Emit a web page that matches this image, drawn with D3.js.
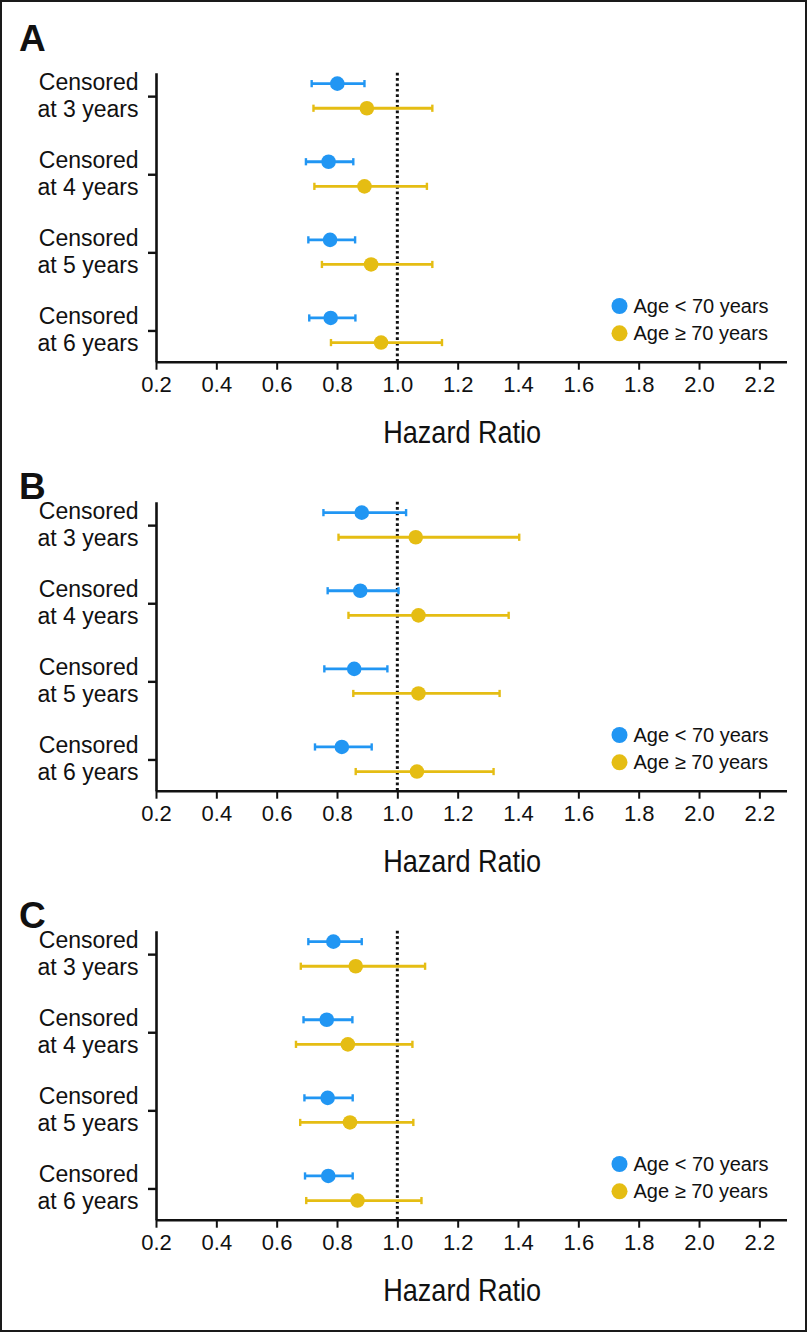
<!DOCTYPE html>
<html><head><meta charset="utf-8">
<script src="https://cdn.jsdelivr.net/npm/d3@7"></script>
<style>body{margin:0;background:#fff} svg{display:block}</style>
</head><body><svg id="c" width="809" height="1332"></svg>
<script>
// ---------- data ----------
const panelLetters = ["A", "B", "C"];
const categories = [["Censored", "at 3 years"], ["Censored", "at 4 years"], ["Censored", "at 5 years"], ["Censored", "at 6 years"]];
const tickValues = [0.2, 0.4, 0.6, 0.8, 1.0, 1.2, 1.4, 1.6, 1.8, 2.0, 2.2];
const tickLabels = ["0.2", "0.4", "0.6", "0.8", "1.0", "1.2", "1.4", "1.6", "1.8", "2.0", "2.2"];
const seriesNames = ["Age < 70 years", "Age \u2265 70 years"];
const xTitle = "Hazard Ratio";
const refLine = 1.0;

// Panel A
const youngHR_A = [0.801, 0.772, 0.777, 0.779];
const youngLo_A = [0.716, 0.697, 0.705, 0.708];
const youngHi_A = [0.891, 0.854, 0.860, 0.861];
const oldHR_A   = [0.899, 0.891, 0.913, 0.946];
const oldLo_A   = [0.722, 0.725, 0.750, 0.780];
const oldHi_A   = [1.116, 1.098, 1.116, 1.148];
// Panel B
const youngHR_B = [0.882, 0.877, 0.857, 0.816];
const youngLo_B = [0.755, 0.769, 0.758, 0.727];
const youngHi_B = [1.029, 1.004, 0.967, 0.915];
const oldHR_B   = [1.061, 1.070, 1.070, 1.065];
const oldLo_B   = [0.805, 0.838, 0.854, 0.862];
const oldHi_B   = [1.404, 1.369, 1.339, 1.319];
// Panel C
const youngHR_C = [0.788, 0.766, 0.769, 0.771];
const youngLo_C = [0.705, 0.689, 0.692, 0.694];
const youngHi_C = [0.882, 0.851, 0.852, 0.852];
const oldHR_C   = [0.862, 0.836, 0.843, 0.868];
const oldLo_C   = [0.680, 0.664, 0.678, 0.698];
const oldHi_C   = [1.092, 1.050, 1.053, 1.080];

const panels = [
  {letter: panelLetters[0], series: [
    {hr: youngHR_A, lo: youngLo_A, hi: youngHi_A},
    {hr: oldHR_A, lo: oldLo_A, hi: oldHi_A}]},
  {letter: panelLetters[1], series: [
    {hr: youngHR_B, lo: youngLo_B, hi: youngHi_B},
    {hr: oldHR_B, lo: oldLo_B, hi: oldHi_B}]},
  {letter: panelLetters[2], series: [
    {hr: youngHR_C, lo: youngLo_C, hi: youngHi_C},
    {hr: oldHR_C, lo: oldLo_C, hi: oldHi_C}]}
];

// ---------- layout / style ----------
const colors = ["#2196f3", "#e5bd13"];
const seriesOffset = [-0.16, 0.155];   // dodge within category (in row units)
const panelTops = [72.7, 501.7, 930.7];
const letterBaselines = [50.7, 499, 928];
const plotH = 289;
const left = 156, right = 786.5;
const sansFont = "'Liberation Sans', Arial, Helvetica, sans-serif";

const svg = d3.select("#c");
svg.append("rect").attr("x", 1).attr("y", 1).attr("width", 805).attr("height", 1330)
  .attr("fill", "#fff").attr("stroke", "#1a1a1a").attr("stroke-width", 2);

const x = d3.scaleLinear().domain([0.2, 2.29]).range([left, right]);
const y = d3.scaleLinear().domain([-0.3, 3.4]).range([0, plotH]);

panels.forEach((p, pi) => {
  const g = svg.append("g").attr("transform", `translate(0,${panelTops[pi]})`);

  // panel letter
  svg.append("text").attr("x", 19).attr("y", letterBaselines[pi])
    .attr("font-family", sansFont).attr("font-weight", "bold").attr("font-size", 37)
    .attr("fill", "#111").text(p.letter);

  // reference dotted line
  g.append("line").attr("x1", x(refLine)).attr("x2", x(refLine))
    .attr("y1", 0).attr("y2", plotH)
    .attr("stroke", "#111").attr("stroke-width", 3).attr("stroke-dasharray", "2.7,2.7");

  // x axis
  const xa = g.append("g").attr("transform", `translate(0,${plotH})`)
    .call(d3.axisBottom(x).tickValues(tickValues).tickFormat((d, i) => tickLabels[i]).tickSize(8).tickSizeOuter(0).tickPadding(7));
  xa.select(".domain").attr("stroke", "#111").attr("stroke-width", 2.6);
  xa.selectAll(".tick line").attr("stroke", "#111").attr("stroke-width", 2);
  xa.selectAll(".tick text").attr("font-family", sansFont).attr("font-size", 22)
    .attr("fill", "#111");

  // y axis
  const ya = g.append("g").attr("transform", `translate(${left},0)`)
    .call(d3.axisLeft(y).tickValues([0, 1, 2, 3]).tickFormat("").tickSize(8).tickSizeOuter(0));
  ya.select(".domain").attr("stroke", "#111").attr("stroke-width", 2.6);
  ya.selectAll(".tick line").attr("stroke", "#111").attr("stroke-width", 2.4);

  // category labels
  categories.forEach((lines, i) => {
    const t = g.append("text").attr("text-anchor", "end").attr("font-family", sansFont)
      .attr("font-size", 23).attr("fill", "#111");
    t.append("tspan").attr("x", 138.5).attr("y", y(i) - 6.3).text(lines[0]);
    t.append("tspan").attr("x", 138.5).attr("y", y(i) + 20.5).text(lines[1]);
  });

  // x title
  g.append("g").attr("transform", `translate(${x(1.2) + 4.5},${plotH + 81.5})`)
    .append("text").attr("text-anchor", "middle").attr("transform", "scale(0.86,1)")
    .attr("font-family", sansFont).attr("font-size", 31.5).attr("fill", "#111").text(xTitle);

  // series
  p.series.forEach((s, si) => {
    const sg = g.append("g");
    const rows = s.hr.map((v, i) => ({hr: v, lo: s.lo[i], hi: s.hi[i], yy: y(i + seriesOffset[si])}));
    sg.selectAll("line.err").data(rows).join("line").attr("class", "err")
      .attr("x1", d => x(d.lo)).attr("x2", d => x(d.hi)).attr("y1", d => d.yy).attr("y2", d => d.yy)
      .attr("stroke", colors[si]).attr("stroke-width", 2.8);
    sg.selectAll("line.capl").data(rows).join("line").attr("class", "capl")
      .attr("x1", d => x(d.lo)).attr("x2", d => x(d.lo)).attr("y1", d => d.yy - 3.6).attr("y2", d => d.yy + 3.6)
      .attr("stroke", colors[si]).attr("stroke-width", 2.4);
    sg.selectAll("line.caph").data(rows).join("line").attr("class", "caph")
      .attr("x1", d => x(d.hi)).attr("x2", d => x(d.hi)).attr("y1", d => d.yy - 3.6).attr("y2", d => d.yy + 3.6)
      .attr("stroke", colors[si]).attr("stroke-width", 2.4);
    sg.selectAll("circle").data(rows).join("circle")
      .attr("cx", d => x(d.hr)).attr("cy", d => d.yy).attr("r", 7.3)
      .attr("fill", colors[si]);
  });

  // legend
  const lg = g.append("g");
  seriesNames.forEach((name, si) => {
    const ly = plotH - 55.7 + si * 27.3;
    lg.append("circle").attr("cx", 619.5).attr("cy", ly).attr("r", 8).attr("fill", colors[si]);
    lg.append("text").attr("x", 633.5).attr("y", ly + 7).attr("font-family", sansFont)
      .attr("font-size", 20).attr("fill", "#111").text(name);
  });
});
</script>
</body></html>
